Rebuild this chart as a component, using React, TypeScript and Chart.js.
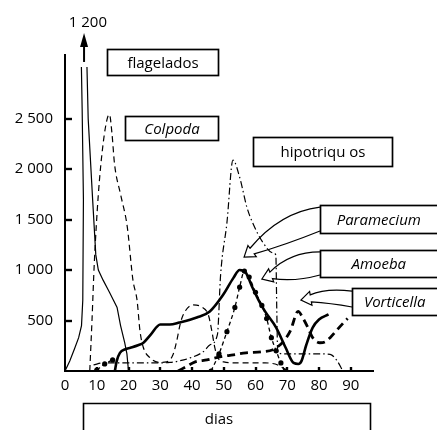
import React, { useEffect, useRef } from 'react';
import { Chart, registerables } from 'chart.js';

Chart.register(...registerables);

const FONT = '"Open Sans", "DejaVu Sans", sans-serif';

// ---- axis ticks ----
const xTicks = [0, 10, 20, 30, 40, 50, 60, 70, 80, 90];
const yTicks = [500, 1000, 1500, 2000, 2500];

// ---- series (days, individuals) ----
const flageladosDays = [0, 1.5, 3, 4.3, 5.2, 5.6, 5.8, 5.4, 5.0, 6.0, 6.7, 7.3, 8.7, 9.7, 10.5, 12, 14, 16.4, 17.5, 18.8, 19.5, 20];
const flageladosCount = [0, 100, 220, 330, 450, 700, 1700, 2600, 3300, 12000, 3300, 2500, 1700, 1150, 1000, 900, 780, 630, 450, 280, 170, 0];

const colpodaDays = [7.8, 8.5, 9.2, 10.5, 12, 13.3, 14, 14.8, 15.6, 17.5, 19.6, 21.4, 22.7, 23.6, 24.6, 26.8, 29.9, 32, 34, 35.2, 36.2, 37.2, 40.3, 43.1, 45.2, 46.3, 47.2, 48.2, 50, 55, 63, 67, 70];
const colpodaCount = [0, 500, 1050, 1750, 2250, 2500, 2540, 2350, 2050, 1750, 1430, 900, 700, 400, 240, 130, 85, 90, 160, 300, 455, 555, 654, 634, 550, 386, 228, 129, 90, 80, 80, 60, 0];

const hipotriquiosDays = [9, 12, 18, 24, 30, 33, 36, 39.4, 43.5, 45.7, 48, 49, 51, 52.9, 55, 57.3, 59.2, 62.4, 65.5, 66.4, 66.7, 67, 70, 75, 80, 83.5, 85.5, 87.5];
const hipotriquiosCount = [60, 80, 80, 80, 80, 85, 100, 130, 190, 260, 360, 950, 1470, 2090, 1920, 1620, 1460, 1270, 1170, 1150, 600, 180, 170, 170, 170, 165, 110, 0];

const parameciumDays = [15.7, 16.3, 17.3, 19, 20.6, 23, 24.7, 27, 30, 33, 36, 41.5, 45.6, 49.7, 53, 55, 57, 59, 61, 63, 66.5, 69.5, 72, 73.5, 74.5, 76, 78, 80, 83];
const parameciumCount = [0, 100, 180, 215, 230, 255, 280, 360, 460, 460, 480, 530, 590, 750, 920, 1000, 970, 830, 700, 590, 430, 230, 80, 70, 100, 260, 430, 510, 560];

const amoebaDays = [10, 12.5, 15, 15.5, 46, 48.5, 51, 53.5, 55, 56.5, 58, 60, 62, 63.5, 65, 66.5, 68, 69.3];
const amoebaCount = [10, 70, 110, null, 0, 170, 390, 630, 830, 990, 930, 780, 650, 520, 330, 200, 80, 0];

const vorticellaDays = [35.6, 38, 41, 44.7, 48.8, 53, 57, 62, 65.5, 67, 69, 71, 73.4, 75, 76.5, 78, 80.3, 82, 83.5, 86.6, 89];
const vorticellaCount = [0, 40, 90, 110, 140, 160, 180, 190, 210, 240, 300, 400, 590, 520, 430, 330, 280, 290, 330, 440, 520];

// ---- annotation texts ----
const offScaleLabel = '1 200';
const axisTitle = 'dias';

// label boxes in data units (day range, value range)
const labelBoxes = [
  { text: 'flagelados', italic: false, d0: 13.2, d1: 48.2, v0: 3189, v1: 2932 },
  { text: 'Colpoda', italic: true, d0: 18.9, d1: 48.2, v0: 2526, v1: 2288 },
  { text: 'hipotriqu os', italic: false, d0: 59.2, d1: 103, v0: 2318, v1: 2031 },
  { text: 'Paramecium', italic: true, d0: 80.3, d1: 120, v0: 1644, v1: 1367 },
  { text: 'Amoeba', italic: true, d0: 80.3, d1: 120, v0: 1199, v1: 931 },
  { text: 'Vorticella', italic: true, d0: 90.4, d1: 120, v0: 822, v1: 555 },
];

// curved outline arrows (data units)
const pointerArrows = [
  { sT: [80.3, 1624], sB: [80.3, 1387], cT: [67.7, 1575], cB: [69.3, 1248], tip: [56.4, 1129] },
  { sT: [80.3, 1179], sB: [80.3, 951], cT: [70.9, 1179], cB: [72.4, 882], tip: [62.0, 911] },
  { sT: [90.4, 792], sB: [90.4, 634], cT: [81.9, 822], cB: [83.5, 674], tip: [74.3, 703] },
];

const upArrow = { day: 6.0, from: 3061, base: 3209, tip: 3348, labelDay: 7.2, labelValue: 3447 };
const diasBox = { d0: 5.7, d1: 96.1, v0: -317, v1: -620 };

const pts = (xs: number[], ys: (number | null)[]) => xs.map((x, i) => ({ x, y: ys[i] }));
const fmt = (v: number) => String(v).replace(/\B(?=(\d{3})+(?!\d))/g, ' ');

const notesPlugin = {
  id: 'figureNotes',
  afterDraw(chart: any) {
    const ctx = chart.ctx as CanvasRenderingContext2D;
    const xs = chart.scales.x;
    const ys = chart.scales.y;
    const area = chart.chartArea;
    const X = (d: number) => xs.getPixelForValue(d);
    const Y = (v: number) => ys.getPixelForValue(v);
    const W = chart.width;
    ctx.save();
    ctx.strokeStyle = '#000';
    ctx.fillStyle = '#000';

    // inward tick marks
    ctx.lineWidth = 2.4;
    xTicks.forEach((t) => {
      if (t === 0) return;
      const px = Math.round(X(t));
      ctx.beginPath();
      ctx.moveTo(px, area.bottom);
      ctx.lineTo(px, area.bottom - 4);
      ctx.stroke();
    });
    yTicks.forEach((t) => {
      const py = Math.round(Y(t));
      ctx.beginPath();
      ctx.moveTo(area.left, py);
      ctx.lineTo(area.left + 7, py);
      ctx.stroke();
    });

    // off-scale arrow for flagelados
    const ax = X(upArrow.day);
    ctx.lineWidth = 2;
    ctx.beginPath();
    ctx.moveTo(ax, Y(upArrow.from));
    ctx.lineTo(ax, Y(upArrow.base));
    ctx.stroke();
    ctx.beginPath();
    ctx.moveTo(ax, Y(upArrow.tip));
    ctx.lineTo(ax - 4, Y(upArrow.base));
    ctx.lineTo(ax + 4, Y(upArrow.base));
    ctx.closePath();
    ctx.fill();
    ctx.font = `15px ${FONT}`;
    ctx.textAlign = 'center';
    ctx.textBaseline = 'middle';
    ctx.fillText(offScaleLabel, X(upArrow.labelDay), Y(upArrow.labelValue));

    // pointer arrows
    ctx.lineWidth = 1.2;
    pointerArrows.forEach((a) => {
      const P = (p: number[]) => ({ x: X(p[0]), y: Y(p[1]) });
      const sT = P(a.sT), sB = P(a.sB), cT = P(a.cT), cB = P(a.cB), tip = P(a.tip);
      const mx = (cT.x + cB.x) / 2, my = (cT.y + cB.y) / 2;
      let dx = tip.x - mx, dy = tip.y - my;
      const L = Math.hypot(dx, dy);
      dx /= L; dy /= L;
      const hl = 10, hw = 7, sw = 3.5;
      const bx = tip.x - dx * hl, by = tip.y - dy * hl;
      let nx = -dy, ny = dx;
      if ((sT.x - sB.x) * nx + (sT.y - sB.y) * ny < 0) { nx = -nx; ny = -ny; }
      ctx.beginPath();
      ctx.moveTo(sT.x, sT.y);
      ctx.quadraticCurveTo(cT.x, cT.y, bx + nx * sw, by + ny * sw);
      ctx.lineTo(bx + nx * hw, by + ny * hw);
      ctx.lineTo(tip.x, tip.y);
      ctx.lineTo(bx - nx * hw, by - ny * hw);
      ctx.lineTo(bx - nx * sw, by - ny * sw);
      ctx.quadraticCurveTo(cB.x, cB.y, sB.x, sB.y);
      ctx.stroke();
    });

    // label boxes
    labelBoxes.forEach((b) => {
      const x0 = Math.round(X(b.d0)) + 0.5;
      const x1 = Math.round(X(b.d1)) + 0.5;
      const y0 = Math.round(Y(b.v0)) + 0.5;
      const y1 = Math.round(Y(b.v1)) + 0.5;
      ctx.fillStyle = '#fff';
      ctx.fillRect(x0, y0, x1 - x0, y1 - y0);
      ctx.lineWidth = 1.7;
      ctx.strokeRect(x0, y0, x1 - x0, y1 - y0);
      ctx.fillStyle = '#000';
      ctx.font = `${b.italic ? 'italic ' : ''}15px ${FONT}`;
      ctx.textAlign = 'center';
      ctx.textBaseline = 'middle';
      const cx = (x0 + Math.min(x1, W)) / 2;
      ctx.fillText(b.text, cx, (y0 + y1) / 2 + 1);
    });

    // dias box
    const bx0 = Math.round(X(diasBox.d0)) + 0.5;
    const bx1 = Math.round(X(diasBox.d1)) + 0.5;
    const by0 = Math.round(Y(diasBox.v0)) + 0.5;
    const by1 = Y(diasBox.v1);
    ctx.lineWidth = 1.6;
    ctx.beginPath();
    ctx.moveTo(bx0, by1);
    ctx.lineTo(bx0, by0);
    ctx.lineTo(bx1, by0);
    ctx.lineTo(bx1, by1);
    ctx.stroke();

    ctx.restore();
  },
};

export default function App() {
  const ref = useRef<HTMLCanvasElement | null>(null);

  useEffect(() => {
    document.body.style.margin = '0';
    const canvas = ref.current;
    if (!canvas) return;
    const base = {
      borderColor: '#000',
      backgroundColor: '#000',
      pointRadius: 0,
      fill: false,
      cubicInterpolationMode: 'monotone' as const,
    };
    const chart = new Chart(canvas, {
      type: 'line',
      data: {
        datasets: [
          {
            ...base,
            label: 'flagelados',
            data: pts(flageladosDays, flageladosCount),
            borderWidth: 1.2,
            tension: 0,
            cubicInterpolationMode: 'default',
            clip: { left: 2, right: 2, top: -12, bottom: 2 },
          },
          {
            ...base,
            label: 'Colpoda',
            data: pts(colpodaDays, colpodaCount),
            borderWidth: 1.2,
            borderDash: [6, 4],
          },
          {
            ...base,
            label: 'hipotriquios',
            data: pts(hipotriquiosDays, hipotriquiosCount),
            borderWidth: 1.2,
            borderDash: [7, 3, 1.5, 3],
          },
          {
            ...base,
            label: 'Paramecium',
            data: pts(parameciumDays, parameciumCount),
            borderWidth: 2.6,
          },
          {
            ...base,
            label: 'Amoeba',
            data: pts(amoebaDays, amoebaCount),
            borderWidth: 1.3,
            borderDash: [4, 3],
            pointRadius: 2.6,
            pointBorderWidth: 0,
          },
          {
            ...base,
            label: 'Vorticella',
            data: pts(vorticellaDays, vorticellaCount),
            borderWidth: 2.8,
            borderDash: [8, 5],
          },
        ],
      },
      options: {
        responsive: false,
        animation: false,
        devicePixelRatio: 1,
        layout: { padding: { top: 55, right: 64, left: 0, bottom: 0 } },
        plugins: {
          legend: { display: false },
          tooltip: { enabled: false },
        },
        scales: {
          x: {
            type: 'linear',
            min: 0,
            max: 97,
            afterBuildTicks: (s: any) => { s.ticks = xTicks.map((v) => ({ value: v })); },
            afterFit: (s: any) => { s.height = 59; },
            grid: { display: false, drawTicks: false },
            border: { display: true, color: '#000', width: 2 },
            ticks: {
              color: '#000',
              font: { size: 15, family: FONT },
              padding: 6,
              maxRotation: 0,
              autoSkip: false,
              callback: (v: any) => String(v),
            },
            title: {
              display: true,
              text: axisTitle,
              color: '#000',
              font: { size: 15, family: FONT },
              padding: { top: 0, bottom: 1 },
            },
          },
          y: {
            type: 'linear',
            min: 0,
            max: 3130,
            afterBuildTicks: (s: any) => { s.ticks = yTicks.map((v) => ({ value: v })); },
            afterFit: (s: any) => { s.width = 65; },
            grid: { display: false, drawTicks: false },
            border: { display: true, color: '#000', width: 2 },
            ticks: {
              color: '#000',
              font: { size: 15, family: FONT },
              padding: 12,
              callback: (v: any) => fmt(Number(v)),
            },
          },
        },
      },
      plugins: [notesPlugin],
    } as any);
    return () => chart.destroy();
  }, []);

  return <canvas ref={ref} width={437} height={430} style={{ display: 'block' }} />;
}
